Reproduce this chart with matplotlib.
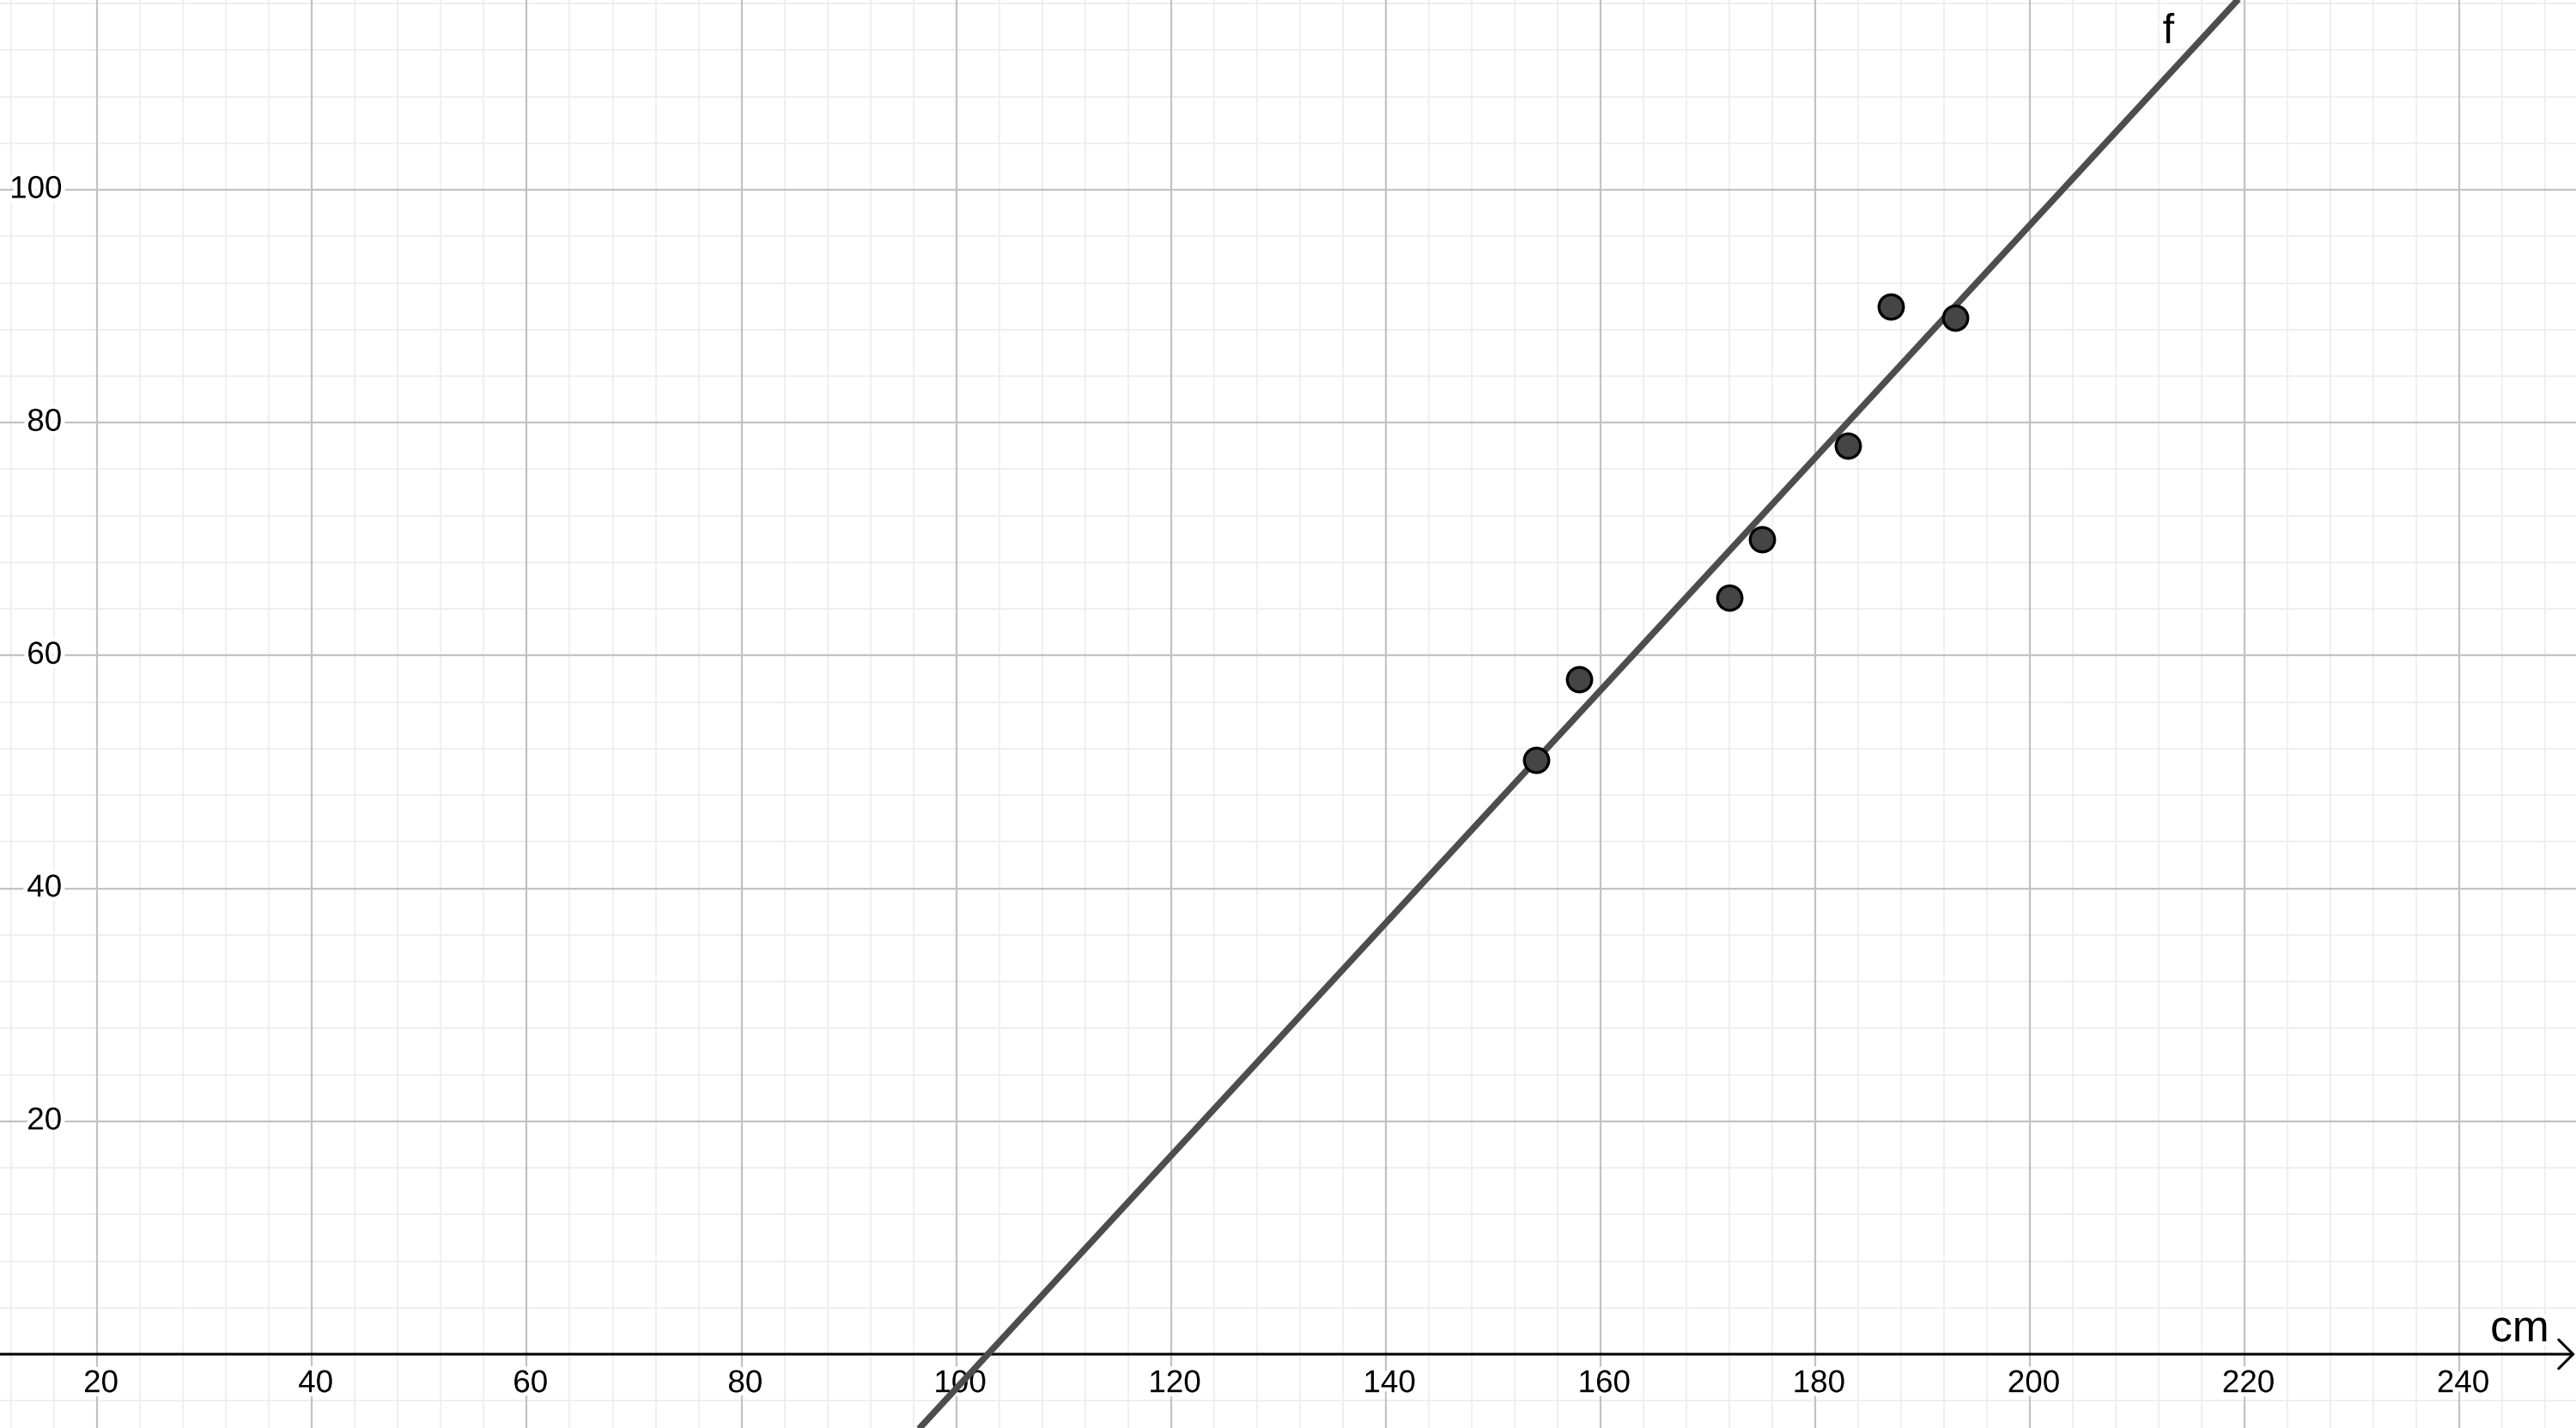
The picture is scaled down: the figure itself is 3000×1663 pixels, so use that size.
import matplotlib
matplotlib.use('Agg')
import matplotlib.pyplot as plt
import matplotlib.patheffects as pe
import matplotlib.transforms as mtransforms
import numpy as np

# ---- data ----
height_cm = [154, 158, 172, 175, 183, 187, 193]
weight = [51, 58, 65, 70, 78, 90, 89]
x_tick_values = [20, 40, 60, 80, 100, 120, 140, 160, 180, 200, 220, 240]
y_tick_values = [20, 40, 60, 80, 100]
x_axis_label = 'cm'
line_label = 'f'

plt.rcParams['font.family'] = ['Liberation Sans', 'DejaVu Sans']

fig = plt.figure(figsize=(30, 16.63), dpi=100)
ax = fig.add_axes([0, 0, 1, 1])
xmin, xmax = 10.94, 250.85
ymin, ymax = -6.34, 116.30
ax.set_xlim(xmin, xmax)
ax.set_ylim(ymin, ymax)
ax.set_xticks([])
ax.set_yticks([])
for s in ax.spines.values():
    s.set_visible(False)

# grid
minor_x = np.arange(0, 260, 4)
minor_y = np.arange(-8, 124, 4)
major_x = np.arange(0, 260, 20)
major_y = np.arange(0, 124, 20)
ax.vlines(minor_x, ymin, ymax, color='#eeeeee', lw=1.3, zorder=0.5)
ax.hlines(minor_y, xmin, xmax, color='#eeeeee', lw=1.3, zorder=0.5)
ax.vlines(major_x, ymin, ymax, color='#c2c2c2', lw=1.6, zorder=0.6)
ax.hlines(major_y[major_y != 0], xmin, xmax, color='#c2c2c2', lw=1.6, zorder=0.6)

# x axis with arrow
ax.annotate('', xy=(xmax - 0.1, 0), xytext=(xmin - 1, 0),
            arrowprops=dict(arrowstyle='->,head_length=0.55,head_width=0.55',
                            lw=2.2, color='black', shrinkA=0, shrinkB=0,
                            mutation_scale=22),
            zorder=2)

halo = [pe.withStroke(linewidth=7, foreground='white')]

# x tick labels
for v in x_tick_values:
    ax.annotate(str(v), xy=(v, 0), xytext=(3, -25), textcoords='offset points',
                ha='center', va='center', fontsize=26.5, color='black',
                path_effects=halo, zorder=3)

# y tick labels
trans = mtransforms.blended_transform_factory(ax.transAxes, ax.transData)
for v in y_tick_values:
    ax.text(72 / 3000, v, str(v), transform=trans, ha='right', va='center',
            fontsize=26.5, color='black', path_effects=halo, zorder=3)

# regression line f
coeffs = np.polyfit(height_cm, weight, 1)
xs = np.array([xmin - 5, xmax + 5])
ax.plot(xs, np.polyval(coeffs, xs), color='#4d4d4d', lw=5.4, zorder=4,
        solid_capstyle='butt')

# points
ax.scatter(height_cm, weight, s=20.5 ** 2, c='#454545', edgecolors='black',
           linewidths=2.4, zorder=5)

# labels
ax.text(245.6, 1.1, x_axis_label, ha='center', va='baseline', fontsize=37,
        color='black', path_effects=halo, zorder=3)
ax.text(212.9, 112.6, line_label, ha='center', va='baseline', fontsize=35,
        color='black', path_effects=halo, zorder=3)

fig.savefig('out.png', dpi=100)
